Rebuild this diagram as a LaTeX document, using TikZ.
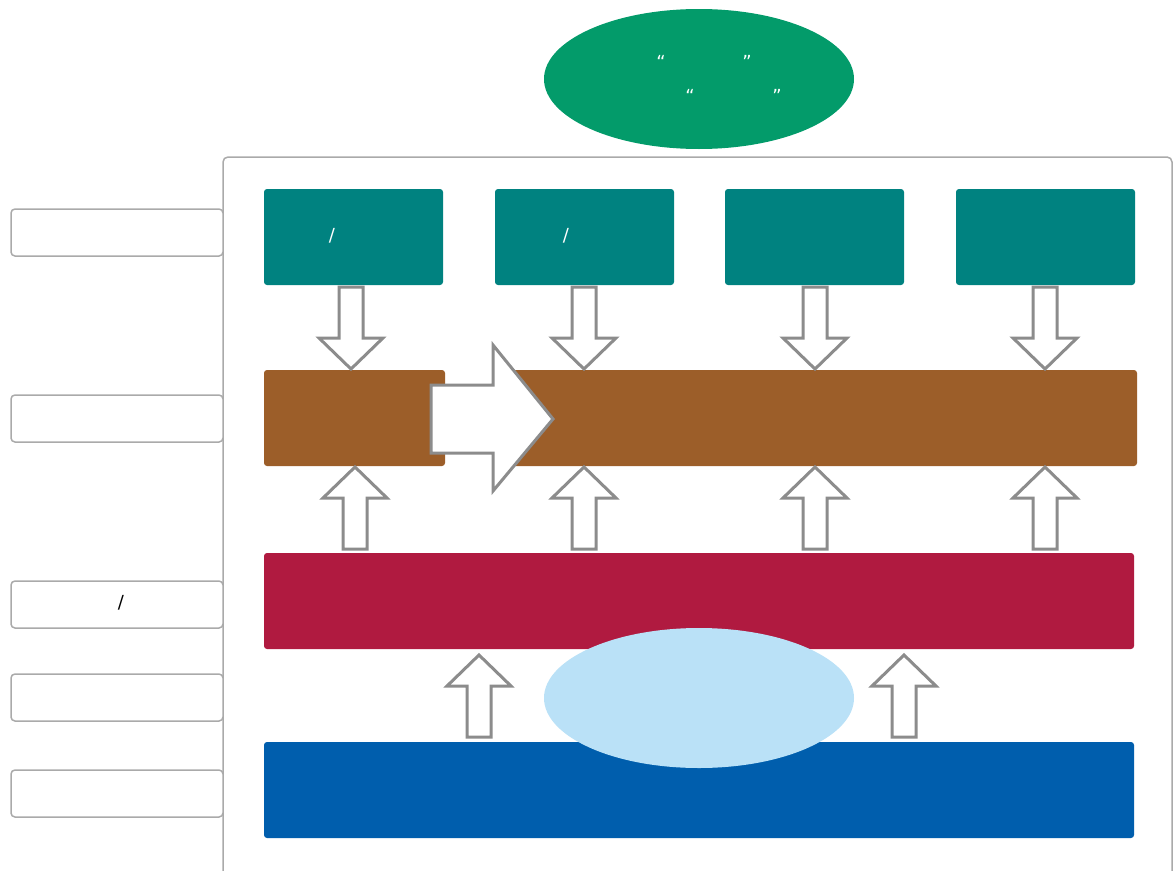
\documentclass[tikz,border=0pt]{standalone}
\usepackage{fontspec}
\setmainfont{DejaVu Sans}
\usetikzlibrary{shapes.geometric}
\definecolor{cgreen}{RGB}{3,155,106}
\definecolor{cteal}{RGB}{0,130,128}
\definecolor{cbrown}{RGB}{156,94,41}
\definecolor{cred}{RGB}{176,26,64}
\definecolor{cblue}{RGB}{0,94,173}
\definecolor{clight}{RGB}{186,225,247}
\definecolor{cframe}{RGB}{170,170,170}
\definecolor{carrow}{RGB}{140,140,140}
\tikzset{
  frame/.style={draw=cframe, line width=1.5pt, rounded corners=5pt, fill=white, inner sep=0pt},
  lbl/.style={draw=cframe, line width=1.5pt, rounded corners=4pt, fill=white, minimum width=212pt, minimum height=47pt, inner sep=0pt},
  bar/.style={rounded corners=3pt, inner sep=0pt, minimum height=96pt},
  tbox/.style={bar, fill=cteal, minimum width=179pt},
  oval/.style={ellipse, inner sep=0pt, minimum width=310pt, minimum height=140pt},
  wtxt/.style={text=white, font=\fontsize{18pt}{20pt}\selectfont, inner sep=0pt},
  btxt/.style={text=black, font=\fontsize{18pt}{20pt}\selectfont, inner sep=0pt},
  barrow/.style={draw=carrow, fill=white, line width=3pt},
  uparr/.pic={\draw[barrow] (0,0) -- (32,31) -- (12,31) -- (12,82) -- (-12,82) -- (-12,31) -- (-32,31) -- cycle;},
  downarr/.pic={\draw[barrow] (0,0) -- (32,-31) -- (12,-31) -- (12,-82) -- (-12,-82) -- (-12,-31) -- (-32,-31) -- cycle;}
}
\begin{document}
\begin{tikzpicture}[x=1pt,y=-1pt]
\useasboundingbox (0,0) rectangle (1175,870);
% container
\node[frame, minimum width=949pt, minimum height=740pt] (box) at (697.5,527) {};
% left labels
\node[lbl] (l1) at (117,232.5) {};
\node[lbl] (l2) at (117,418.5) {};
\node[lbl] (l3) at (117,604.5) {};
\node[lbl] (l4) at (117,697.5) {};
\node[lbl] (l5) at (117,793.5) {};
\node[btxt] (s3) at (121,603) {/};
% teal boxes
\node[tbox] (t1) at (353.5,237) {};
\node[tbox] (t2) at (584.5,237) {};
\node[tbox] (t3) at (814.5,237) {};
\node[tbox] (t4) at (1045.5,237) {};
\node[wtxt] (s1) at (332,236) {/};
\node[wtxt] (s2) at (566,236) {/};
% brown bar
\node[bar, fill=cbrown, minimum width=181pt] (b1) at (354.5,418) {};
\node[bar, fill=cbrown, minimum width=637pt] (b2) at (818.5,418) {};
% red and blue bars
\node[bar, fill=cred, minimum width=870pt] (r) at (699,601) {};
\node[bar, fill=cblue, minimum width=870pt] (u) at (699,790) {};
% down arrows
\pic at (351,369) {downarr};
\pic at (584,369) {downarr};
\pic at (815,369) {downarr};
\pic at (1045,369) {downarr};
% big right arrow
\draw[barrow] (431,385) -- (493,385) -- (493,345) -- (553,419) -- (493,491) -- (493,453) -- (431,453) -- cycle;
% up arrows
\pic at (355,467) {uparr};
\pic at (584,467) {uparr};
\pic at (815,467) {uparr};
\pic at (1045,467) {uparr};
\pic at (479,655) {uparr};
\pic at (904,655) {uparr};
% ellipses
\node[oval, fill=clight] (e2) at (699,698) {};
\node[oval, fill=cgreen] (e1) at (699,79) {};
\node[wtxt, anchor=base] (q1) at (661,68) {“};
\node[wtxt, anchor=base] (q2) at (747,68) {”};
\node[wtxt, anchor=base] (q3) at (690,102) {“};
\node[wtxt, anchor=base] (q4) at (777,102) {”};
\end{tikzpicture}
\end{document}
